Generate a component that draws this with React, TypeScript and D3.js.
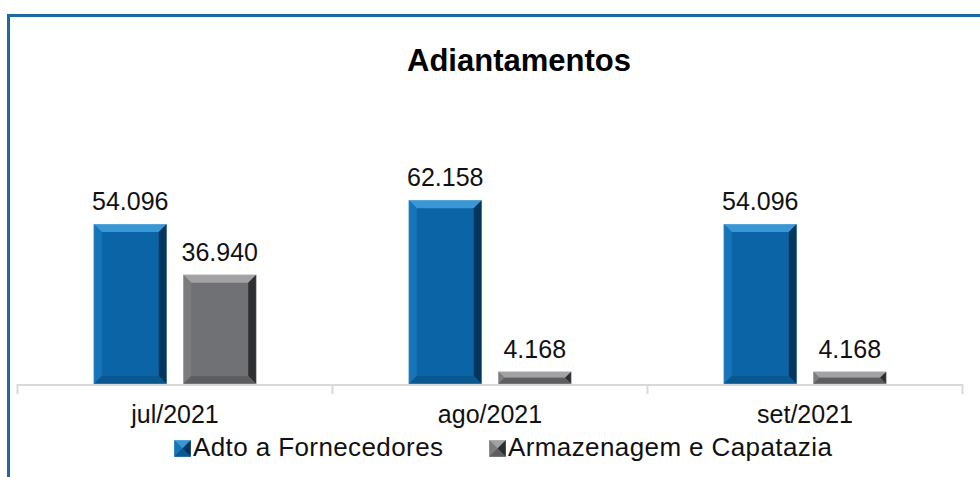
import React, {useEffect, useRef} from "react";
import * as d3 from "d3";

const categories = ["jul/2021", "ago/2021", "set/2021"];
const seriesNames = ["Adto a Fornecedores", "Armazenagem e Capatazia"];
const adtoFornecedores = [54096, 62158, 54096];
const armazenagem = [36940, 4168, 4168];

const W = 980;
const H = 477;
const FONT = "'Century Gothic', 'Liberation Sans', Arial, sans-serif";

// base, top bevel, left bevel, right bevel, bottom bevel
const palettes = [
    {base: "#0b64a5", top: "#3a97d6", left: "#1674b8", right: "#04355c", bottom: "#0a5890"},
    {base: "#707174", top: "#a2a2a4", left: "#7c7c7f", right: "#2e2e30", bottom: "#5e5e60"},
];

const fmt = (v: number) => d3.format(",")(v).replace(/,/g, ".");

function bevelBar(g: any, x: number, y: number, w: number, h: number, p: any) {
    const b = Math.min(8, h / 2, w / 2);
    g.append("rect").attr("x", x).attr("y", y).attr("width", w).attr("height", h).attr("fill", p.base);
    const poly = (pts: number[][], c: string) =>
        g.append("polygon").attr("points", pts.map(d => d.join(",")).join(" ")).attr("fill", c);
    poly([[x, y], [x + w, y], [x + w - b, y + b], [x + b, y + b]], p.top);
    poly([[x, y], [x + b, y + b], [x + b, y + h - b], [x, y + h]], p.left);
    poly([[x + w, y], [x + w, y + h], [x + w - b, y + h - b], [x + w - b, y + b]], p.right);
    poly([[x, y + h], [x + b, y + h - b], [x + w - b, y + h - b], [x + w, y + h]], p.bottom);
    g.append("rect").attr("x", x).attr("y", y).attr("width", w).attr("height", h)
        .attr("fill", "none").attr("stroke", "rgba(255,255,255,0.35)").attr("stroke-width", 0.8);
}

const App = () => {
    const svgRef = useRef(null);

    useEffect(() => {
        document.body.style.margin = "0";
        const svg = d3.select(svgRef.current);
        svg.selectAll("*").remove();

        svg.append("rect").attr("width", W).attr("height", H).attr("fill", "#fff");
        // frame (runs past the right and bottom edges)
        svg.append("rect").attr("x", 8.5).attr("y", 15.5).attr("width", 1100).attr("height", 600)
            .attr("fill", "none").attr("stroke", "#1a6aa6").attr("stroke-width", 3);

        svg.append("text").attr("x", 519).attr("y", 71).attr("text-anchor", "middle")
            .attr("font-family", FONT).attr("font-weight", "bold").attr("font-size", 31)
            .attr("fill", "#000").text("Adiantamentos");

        const baseY = 384;
        const x0 = d3.scaleBand().domain(categories).range([17.5, 962.5]).padding(0);
        const y = d3.scaleLinear().domain([0, 54096]).range([baseY, baseY - 160]);
        const barW = 73;
        const gap = 16.5;

        const series = [adtoFornecedores, armazenagem];
        const g = svg.append("g");
        categories.forEach((c, i) => {
            const cx = (x0(c) as number) + x0.bandwidth() / 2;
            series.forEach((s, k) => {
                const bx = k === 0 ? cx - gap / 2 - barW : cx + gap / 2;
                const by = y(s[i]);
                bevelBar(g, bx, by, barW, baseY - by, palettes[k]);
                g.append("text").attr("x", bx + barW / 2).attr("y", by - 14).attr("text-anchor", "middle")
                    .attr("font-family", FONT).attr("font-size", 25).attr("fill", "#111").text(fmt(s[i]));
            });
        });

        // category axis
        const ax = svg.append("g");
        ax.append("line").attr("x1", 17.5).attr("x2", 962.5).attr("y1", baseY + 1).attr("y2", baseY + 1)
            .attr("stroke", "#d9d9d9").attr("stroke-width", 2);
        const bounds = categories.map(c => x0(c) as number).concat([x0.range()[1]]);
        bounds.forEach(bx => {
            ax.append("line").attr("x1", bx).attr("x2", bx).attr("y1", baseY).attr("y2", baseY + 10)
                .attr("stroke", "#d9d9d9").attr("stroke-width", 2);
        });
        categories.forEach(c => {
            ax.append("text").attr("x", (x0(c) as number) + x0.bandwidth() / 2).attr("y", 423)
                .attr("text-anchor", "middle").attr("font-family", FONT).attr("font-size", 25)
                .attr("fill", "#111").text(c);
        });

        // legend
        const legX = [174, 489];
        seriesNames.forEach((n, k) => {
            const lg = svg.append("g");
            bevelBar(lg, legX[k], 440, 17, 17, palettes[k]);
            lg.append("text").attr("x", legX[k] + 19).attr("y", 456).attr("font-family", FONT)
                .attr("font-size", 26).attr("letter-spacing", 0.4).attr("fill", "#111").text(n);
        });
    }, []);

    return <svg ref={svgRef} width={W} height={H} style={{display: "block"}}/>;
};

export default App;
